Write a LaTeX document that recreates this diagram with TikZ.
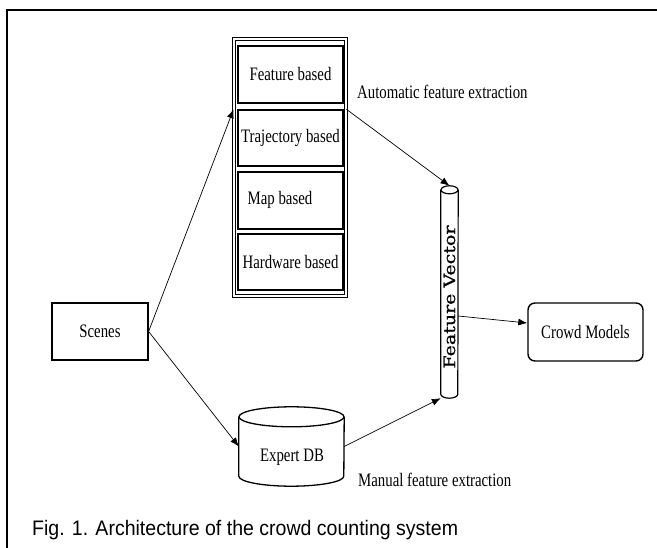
\documentclass[tikz,border=0pt]{standalone}
\usepackage{fontspec}
\setmainfont{Liberation Serif}[FakeStretch=0.78]
\newfontfamily\capfont{Liberation Sans}[FakeStretch=0.93]
\newfontfamily\fvfont{DejaVu Serif}[FakeBold=0.8]
\usetikzlibrary{arrows.meta,calc}
\begin{document}
\begin{tikzpicture}[x=1pt,y=-1pt,
  lbl/.style={font=\fontsize{19}{22}\selectfont, inner sep=0pt},
  box/.style={draw, line width=1.4pt, inner sep=0pt, font=\fontsize{19}{22}\selectfont},
  arr/.style={-{Latex[length=9pt,width=7pt]}, line width=0.7pt},
]
\useasboundingbox (0,0) rectangle (657,548);
\draw[line width=2pt] (7,550) -- (7,10) -- (660,10);

% stack of methods
\node[draw, double=white, double distance=1.6pt, line width=0.9pt, minimum width=112, minimum height=257, inner sep=0pt] (stack) at (290,167.5) {};
\node[box, minimum width=105, minimum height=57] (feat) at (290.5,74.5) {Feature based};
\node[box, minimum width=105, minimum height=56] (traj) at (290.5,138) {Trajectory based};
\node[box, minimum width=105, minimum height=57] (map) at (290.5,200.5) {};
\node[lbl] (maplbl) at (280,200) {Map based};
\node[box, minimum width=105, minimum height=56] (hard) at (290.5,262) {Hardware based};

% scenes
\node[box, line width=1.2pt, minimum width=96, minimum height=57] (scenes) at (100,331.5) {Scenes};

% crowd models
\node[box, rounded corners=7pt, minimum width=115, minimum height=58] (crowd) at (585.5,332) {Crowd Models};

% expert DB cylinder
\node[minimum width=105, minimum height=79, inner sep=0pt] (db) at (291.5,446.5) {};
\draw[line width=1.3pt] ($(db.north)+(0,10)$) ellipse [x radius=52.5pt, y radius=10pt];
\draw[line width=1.3pt] ($(db.north west)+(0,10)$) -- ($(db.south west)+(0,-10)$)
  arc[start angle=180, end angle=360, x radius=52.5pt, y radius=10pt]
  -- ($(db.north east)+(0,10)$);
\node[lbl] (dblbl) at (292,457) {Expert DB};

% feature vector cylinder
\node[minimum width=17, minimum height=212, inner sep=0pt] (fv) at (449.5,292) {};
\draw[line width=1.2pt] ($(fv.north)+(0,4)$) ellipse [x radius=8.5pt, y radius=4pt];
\draw[line width=1.2pt] ($(fv.north west)+(0,4)$) -- ($(fv.south west)+(0,-4)$)
  arc[start angle=180, end angle=360, x radius=8.5pt, y radius=4pt]
  -- ($(fv.north east)+(0,4)$);
\node[rotate=90, inner sep=0pt, font=\fvfont\fontsize{19}{20}\selectfont] (fvlbl) at ($(fv.center)+(0,5)$) {\scalebox{1}[0.82]{Feature Vector}};

% labels
\node[lbl, anchor=west] (auto) at (357,92) {Automatic feature extraction};
\node[lbl, anchor=west] (manual) at (358,480) {Manual feature extraction};

% arrows
\draw[arr] (scenes.east) -- (traj.north -| stack.west);
\draw[arr] (scenes.east) -- (db.west);
\draw[arr] (traj.north -| stack.east) -- (fv.north);
\draw[arr] (db.east) -- (fv.south west);
\draw[arr] ($(fv.east)+(0,24)$) -- ($(crowd.west)+(0,-9)$);

% caption
\node[font=\capfont\fontsize{21}{24}\selectfont, anchor=base west, inner sep=0pt] (cap) at (32,535) {Fig. 1. Architecture of the crowd counting system};
\end{tikzpicture}
\end{document}
